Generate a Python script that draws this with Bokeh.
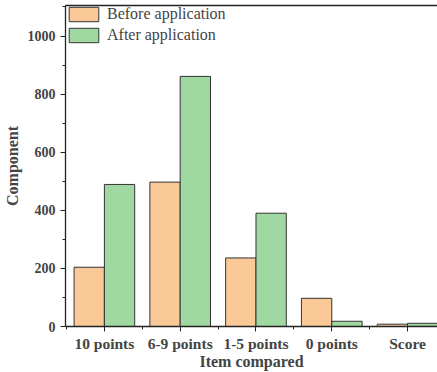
from bokeh.plotting import figure
from bokeh.models import (FixedTicker, LinearAxis, Range1d, Legend, LegendItem,
                          ColumnDataSource)
from bokeh.embed import file_html
from bokeh.resources import INLINE

categories = ["10 points", "6-9 points", "1-5 points", "0 points", "Score"]
before = [204, 497, 236, 97, 8]
after = [489, 861, 390, 18, 11]
y_ticks = [0, 200, 400, 600, 800, 1000]

FONT = "Liberation Serif"
positions = list(range(1, len(categories) + 1))

src = ColumnDataSource(dict(
    xb=[x - 0.2 for x in positions],
    xa=[x + 0.2 for x in positions],
    before=before, after=after))

p = figure(width=437, height=372, output_backend="svg", toolbar_location=None,
           x_range=Range1d(0.487, 5.395), y_range=Range1d(0, 1105),
           min_border_left=64, min_border_right=0, min_border_top=5,
           min_border_bottom=44)
p.grid.visible = False
p.outline_line_color = None

rb = p.vbar(x="xb", top="before", width=0.4, source=src,
            fill_color="#FBC997", line_color="#333333", line_width=1)
ra = p.vbar(x="xa", top="after", width=0.4, source=src,
            fill_color="#9FD8A0", line_color="#333333", line_width=1)

# x axis
xa = p.xaxis[0]
xa.ticker = FixedTicker(ticks=positions,
                        minor_ticks=[x - 0.5 for x in positions] + [positions[-1] + 0.5])
xa.major_label_overrides = {x: c for x, c in zip(positions, categories)}
xa.axis_label = "Item compared"
xa.axis_label_text_font = FONT
xa.axis_label_text_font_style = "bold"
xa.axis_label_text_font_size = "16px"
xa.axis_label_standoff = -2
xa.major_label_text_font = FONT
xa.major_label_text_font_style = "bold"
xa.major_label_text_font_size = "15.5px"
xa.major_label_standoff = 3
xa.major_tick_out = 5
xa.major_tick_in = 0
xa.minor_tick_out = 3
xa.minor_tick_in = 0
xa.axis_line_width = 1.3
xa.axis_line_color = "#222222"
xa.major_tick_line_color = "#222222"
xa.minor_tick_line_color = "#222222"

# y axis
ya = p.yaxis[0]
ya.ticker = FixedTicker(ticks=y_ticks, minor_ticks=[v + 100 for v in y_ticks])
ya.axis_label = "Component"
ya.axis_label_text_font = FONT
ya.axis_label_text_font_style = "bold"
ya.axis_label_text_font_size = "16px"
ya.axis_label_standoff = 4
ya.major_label_text_font = FONT
ya.major_label_text_font_style = "bold"
ya.major_label_text_font_size = "14px"
ya.major_label_standoff = 5
ya.major_tick_out = 5
ya.major_tick_in = 0
ya.minor_tick_out = 3
ya.minor_tick_in = 0
ya.axis_line_width = 1.3
ya.axis_line_color = "#222222"
ya.major_tick_line_color = "#222222"
ya.minor_tick_line_color = "#222222"

# top frame line
top = LinearAxis(ticker=FixedTicker(ticks=[]), major_label_text_font_size="0px",
                 axis_line_width=1.3, axis_line_color="#222222",
                 major_tick_line_color=None, minor_tick_line_color=None)
p.add_layout(top, "above")

legend = Legend(items=[LegendItem(label="Before application", renderers=[rb]),
                       LegendItem(label="After application", renderers=[ra])],
                location="top_left", border_line_color=None,
                background_fill_alpha=0, margin=0, padding=6,
                glyph_width=37, glyph_height=18, spacing=3, label_standoff=5,
                label_text_font=FONT, label_text_font_size="16px",
                label_height=18)
p.add_layout(legend, "center")

open("out.html", "w").write(file_html(p, INLINE))
